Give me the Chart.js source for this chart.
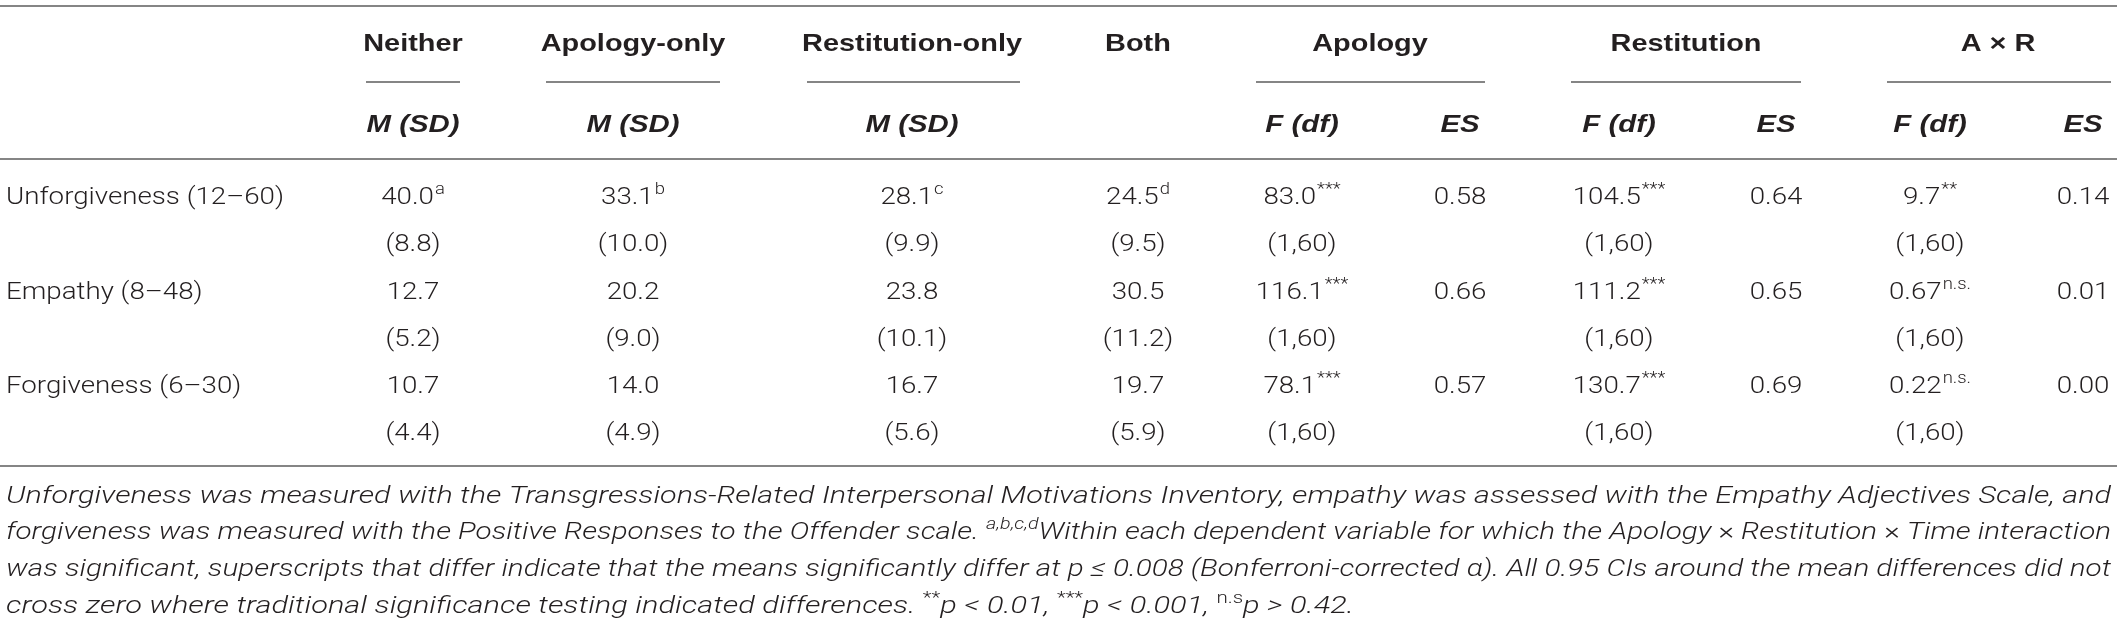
<!DOCTYPE html>
<html>
<head>
<meta charset="utf-8">
<script src="https://cdn.jsdelivr.net/npm/chart.js@4.4.1/dist/chart.umd.min.js"></script>
<style>
  html, body { margin: 0; padding: 0; background: #fff; }
  #wrap { width: 2117px; height: 627px; }
</style>
</head>
<body>
<div id="wrap"><canvas id="resultsTable" width="2117" height="627"></canvas></div>
<script>
// --- Table content ---
const rowLabels = ['Unforgiveness (12–60)', 'Empathy (8–48)', 'Forgiveness (6–30)'];
const groupHeaders = ['Neither', 'Apology-only', 'Restitution-only', 'Both', 'Apology', 'Restitution', 'A × R'];
const subHeaders = ['M (SD)', 'M (SD)', 'M (SD)', '', 'F (df)', 'ES', 'F (df)', 'ES', 'F (df)', 'ES'];

const neitherM = [40.0, 12.7, 10.7];
const neitherSD = [8.8, 5.2, 4.4];
const apologyOnlyM = [33.1, 20.2, 14.0];
const apologyOnlySD = [10.0, 9.0, 4.9];
const restitutionOnlyM = [28.1, 23.8, 16.7];
const restitutionOnlySD = [9.9, 10.1, 5.6];
const bothM = [24.5, 30.5, 19.7];
const bothSD = [9.5, 11.2, 5.9];
const meanSups = [['a', 'b', 'c', 'd'], ['', '', '', ''], ['', '', '', '']];

const apologyF = [83.0, 116.1, 78.1];
const apologySig = ['***', '***', '***'];
const apologyES = [0.58, 0.66, 0.57];
const restitutionF = [104.5, 111.2, 130.7];
const restitutionSig = ['***', '***', '***'];
const restitutionES = [0.64, 0.65, 0.69];
const axrF = [9.7, 0.67, 0.22];
const axrSig = ['**', 'n.s.', 'n.s.'];
const axrES = [0.14, 0.01, 0.00];
const dfLabel = '(1,60)';

// footnote, one array of runs per printed line
const noteLines = [
  [{ t: 'Unforgiveness was measured with the Transgressions-Related Interpersonal Motivations Inventory, empathy was assessed with the Empathy Adjectives Scale, and' }],
  [{ t: 'forgiveness was measured with the Positive Responses to the Offender scale. ' }, { t: 'a,b,c,d', sup: true },
   { t: 'Within each dependent variable for which the Apology ' }, { t: '×', up: true }, { t: ' Restitution ' }, { t: '×', up: true }, { t: ' Time interaction' }],
  [{ t: 'was significant, superscripts that differ indicate that the means significantly differ at p ≤ 0.008 (Bonferroni-corrected α). All 0.95 CIs around the mean differences did not' }],
  [{ t: 'cross zero where traditional significance testing indicated differences. ' }, { t: '**', sup: true, up: true }, { t: 'p < 0.01, ' },
   { t: '***', sup: true, up: true }, { t: 'p < 0.001, ' }, { t: 'n.s', sup: true, up: true }, { t: 'p > 0.42.' }]
];

// --- Layout (pixels of the 2117 x 627 frame) ---
const W = 2117, H = 627;
const labelX = 6;
const colCenters = [413, 633, 912, 1138, 1302, 1460, 1619, 1776, 1930, 2083];
const groupCenters = [413, 633, 912, 1138, 1370, 1686, 1998];
const groupSpans = [[366, 460], [546, 720], [807, 1020], null, [1256, 1485], [1571, 1801], [1887, 2111]];
const yTopRule = 6, yHead = 42, yGroupRule = 82, ySub = 123, yHeadRule = 159, yBottomRule = 466;
const yRows = [195, 290, 384];
const sdGap = 47;
const yNotes = [494, 530, 567, 604];
const noteRight = 2111;
const lastNoteEnd = 1354;

const INK = '#231f20';
const RULE = '#858585';
const fonts = {
  head: { w: '700', s: 24, fam: "'Liberation Sans', Arial, sans-serif", it: false, target: ['Restitution-only', 220] },
  sub: { w: '700', s: 24, fam: "'Liberation Sans', Arial, sans-serif", it: true, target: ['M (SD)', 93] },
  body: { w: '300', s: 24, fam: "Roboto, 'Liberation Sans', sans-serif", it: false, target: ['Unforgiveness (12–60)', 278] },
  note: { w: '300', s: 24, fam: "Roboto, 'Liberation Sans', sans-serif", it: true }
};
const fontStr = (f, size, italic) => `${italic ? 'italic ' : ''}${f.w} ${size}px ${f.fam}`;

const fmt1 = v => v.toFixed(1);
const fmtF = v => (v < 1 ? v.toFixed(2) : v.toFixed(1));
const fmtES = v => v.toFixed(2);

// --- Build the cell points ---
const cells = [];
groupHeaders.forEach((t, i) => cells.push({ x: groupCenters[i], y: yHead, text: t, style: 'head' }));
subHeaders.forEach((t, i) => { if (t) cells.push({ x: colCenters[i], y: ySub, text: t, style: 'sub' }); });

const conditions = [
  [neitherM, neitherSD], [apologyOnlyM, apologyOnlySD], [restitutionOnlyM, restitutionOnlySD], [bothM, bothSD]
];
const effects = [
  [apologyF, apologySig, apologyES, fmt1], [restitutionF, restitutionSig, restitutionES, fmt1], [axrF, axrSig, axrES, fmtF]
];
rowLabels.forEach((label, r) => {
  const y = yRows[r];
  cells.push({ x: labelX, y: y, text: label, style: 'body', align: 'left' });
  conditions.forEach(([m, sd], c) => {
    cells.push({ x: colCenters[c], y: y, text: fmt1(m[r]), sup: meanSups[r][c], style: 'body' });
    cells.push({ x: colCenters[c], y: y + sdGap, text: '(' + fmt1(sd[r]) + ')', style: 'body' });
  });
  effects.forEach(([f, sig, es, ff], e) => {
    const cF = 4 + e * 2;
    cells.push({ x: colCenters[cF], y: y, text: ff(f[r]), sup: sig[r], style: 'body' });
    cells.push({ x: colCenters[cF], y: y + sdGap, text: dfLabel, style: 'body' });
    cells.push({ x: colCenters[cF + 1], y: y, text: fmtES(es[r]), style: 'body' });
  });
});

const notePoints = noteLines.map((runs, i) => ({ x: labelX, y: yNotes[i], line: i }));

// --- Rules as line datasets ---
const ruleSet = (x0, x1, y) => ({
  type: 'scatter', showLine: true, data: [{ x: x0, y: y }, { x: x1, y: y }],
  borderColor: RULE, borderWidth: 2, pointRadius: 0, pointHoverRadius: 0
});
const rules = [ruleSet(0, W, yTopRule), ruleSet(0, W, yHeadRule), ruleSet(0, W, yBottomRule)];
groupSpans.forEach(s => { if (s) rules.push(ruleSet(s[0], s[1], yGroupRule)); });

// --- Text plugin: draws cell text at the scaled point positions ---
const stretch = {};
const noteRunFont = r => fontStr(fonts.note, r.sup ? Math.round(fonts.note.s * 0.68) : fonts.note.s, !r.up);

function drawCell(ctx, cell, px, py) {
  const f = fonts[cell.style];
  const sx = stretch[cell.style];
  ctx.font = fontStr(f, f.s, f.it);
  const w1 = ctx.measureText(cell.text).width * sx;
  let w2 = 0;
  const supSize = Math.round(f.s * 0.68);
  const supFont = fontStr(f, supSize, false);
  if (cell.sup) { ctx.font = supFont; w2 = ctx.measureText(cell.sup).width * sx + 1; }
  const x = cell.align === 'left' ? px : px - (w1 + w2) / 2;
  const base = py + f.s * 0.36;
  ctx.save();
  ctx.translate(x, base);
  ctx.scale(sx, 1);
  ctx.font = fontStr(f, f.s, f.it);
  ctx.fillText(cell.text, 0, 0);
  if (cell.sup) {
    ctx.font = supFont;
    ctx.fillText(cell.sup, (w1 + 1) / sx, -f.s * 0.42);
  }
  ctx.restore();
}

function noteWidth(ctx, runs) {
  let w = 0;
  runs.forEach(r => { ctx.font = noteRunFont(r); w += ctx.measureText(r.t).width; });
  return w;
}

function drawNote(ctx, runs, px, py, right, justify) {
  const f = fonts.note;
  const sx = stretch.note;
  let spaces = 0;
  runs.forEach(r => { spaces += (r.t.match(/ /g) || []).length; });
  const natural = noteWidth(ctx, runs) * sx;
  let k = sx, extra = 0;
  const target = right - px;
  if (justify) {
    if (natural < target) extra = (target - natural) / spaces;
    else k = sx * target / natural;
  }
  const base = py + f.s * 0.36;
  let x = px;
  runs.forEach(r => {
    ctx.font = noteRunFont(r);
    const parts = r.t.split(' ');
    parts.forEach((p, i) => {
      if (i > 0) x += ctx.measureText(' ').width * k + extra;
      if (p) {
        ctx.save();
        ctx.translate(x, base - (r.sup ? f.s * 0.4 : 0));
        ctx.scale(k, 1);
        ctx.fillText(p, 0, 0);
        ctx.restore();
        x += ctx.measureText(p).width * k;
      }
    });
  });
}

const tableTextPlugin = {
  id: 'tableText',
  afterDatasetsDraw(chart) {
    const ctx = chart.ctx;
    const xs = chart.scales.x;
    // horizontal stretch so the type fills the columns like the printed table
    Object.keys(fonts).forEach(key => {
      const f = fonts[key];
      if (!f.target) return;
      ctx.font = fontStr(f, f.s, f.it);
      stretch[key] = f.target[1] / ctx.measureText(f.target[0]).width;
    });
    const lastRuns = noteLines[noteLines.length - 1];
    stretch.note = (xs.getPixelForValue(lastNoteEnd) - xs.getPixelForValue(labelX)) / noteWidth(ctx, lastRuns);

    ctx.save();
    ctx.fillStyle = INK;
    ctx.textBaseline = 'alphabetic';
    ctx.textAlign = 'left';
    chart.data.datasets.forEach((ds, di) => {
      if (!ds.cellText && !ds.noteText) return;
      const meta = chart.getDatasetMeta(di);
      meta.data.forEach((pt, i) => {
        const item = ds.data[i];
        if (ds.cellText) drawCell(ctx, item, pt.x, pt.y);
        else drawNote(ctx, noteLines[item.line], pt.x, pt.y, xs.getPixelForValue(noteRight), item.line < noteLines.length - 1);
      });
    });
    ctx.restore();
  }
};

const chartCtx = document.getElementById('resultsTable').getContext('2d');
new Chart(chartCtx, {
  type: 'scatter',
  data: {
    datasets: [
      ...rules,
      { data: cells, cellText: true, pointRadius: 0, pointHoverRadius: 0 },
      { data: notePoints, noteText: true, pointRadius: 0, pointHoverRadius: 0 }
    ]
  },
  options: {
    responsive: false,
    animation: false,
    devicePixelRatio: 1,
    events: [],
    layout: { padding: 0 },
    scales: {
      x: { type: 'linear', min: 0, max: W, display: false },
      y: { type: 'linear', min: 0, max: H, reverse: true, display: false }
    },
    plugins: {
      legend: { display: false },
      tooltip: { enabled: false }
    }
  },
  plugins: [tableTextPlugin]
});
</script>
</body>
</html>
